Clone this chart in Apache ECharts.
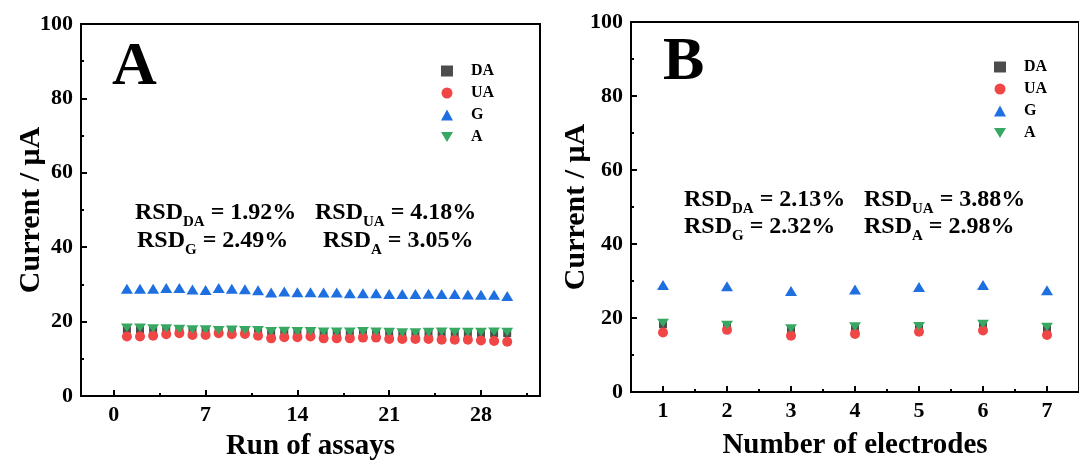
<!DOCTYPE html>
<html>
<head>
<meta charset="utf-8">
<script src="https://cdn.jsdelivr.net/npm/echarts@6.0.0/dist/echarts.min.js"></script>
<style>
  html, body { margin: 0; padding: 0; background: #fff; }
  #main { width: 1079px; height: 467px; }
</style>
</head>
<body>
<div id="main"></div>
<script>
// ---- data, panel A (run of assays) ----
var runs = [];
for (var i = 1; i <= 30; i++) runs.push(i);
var daA = [18.0, 17.9, 17.9, 17.8, 17.7, 17.6, 17.6, 17.5, 17.5, 17.4, 17.3, 17.1, 17.2, 17.1, 17.1,
           17.0, 17.0, 17.0, 17.0, 16.9, 16.9, 16.8, 16.8, 16.8, 17.0, 16.9, 16.8, 16.9, 16.9, 16.9];
var uaA = [16.0, 16.0, 16.2, 16.6, 16.9, 16.4, 16.4, 16.9, 16.6, 16.7, 16.2, 15.5, 15.8, 15.8, 16.0,
           15.5, 15.5, 15.5, 15.7, 15.7, 15.3, 15.3, 15.3, 15.3, 15.1, 15.1, 15.1, 14.9, 14.8, 14.6];
var gA  = [28.8, 28.8, 28.8, 29.0, 29.0, 28.6, 28.5, 29.0, 28.8, 28.7, 28.4, 27.8, 28.1, 27.9, 27.9,
           27.8, 27.8, 27.6, 27.6, 27.6, 27.4, 27.4, 27.4, 27.5, 27.4, 27.4, 27.3, 27.2, 27.2, 26.9];
var aA  = [18.4, 18.4, 18.2, 18.2, 18.0, 17.9, 17.9, 17.7, 17.8, 17.7, 17.7, 17.4, 17.5, 17.4, 17.4,
           17.3, 17.3, 17.3, 17.4, 17.3, 17.2, 17.1, 17.1, 17.2, 17.3, 17.2, 17.2, 17.2, 17.3, 17.2];

// ---- data, panel B (number of electrodes) ----
var electrodes = [1, 2, 3, 4, 5, 6, 7];
var daB = [18.3, 17.9, 16.9, 17.3, 17.6, 18.1, 17.2];
var uaB = [16.1, 16.8, 15.2, 15.7, 16.3, 16.6, 15.4];
var gB  = [28.9, 28.6, 27.3, 27.7, 28.4, 28.9, 27.5];
var aB  = [18.7, 18.1, 17.2, 17.7, 17.8, 18.4, 17.6];

// tick labels
var xTicksA = [0, 7, 14, 21, 28];
var xMinorA = [3.5, 10.5, 17.5, 24.5, 31.5];
var xTicksB = [1, 2, 3, 4, 5, 6, 7];
var xMinorB = [1.5, 2.5, 3.5, 4.5, 5.5, 6.5];

var names = ['DA', 'UA', 'G', 'A'];
var colors = ['#4d4d4d', '#f04646', '#1e6fe0', '#37a862'];
var rsdA = [['DA', '1.92%'], ['UA', '4.18%'], ['G', '2.49%'], ['A', '3.05%']];
var rsdB = [['DA', '2.13%'], ['UA', '3.88%'], ['G', '2.32%'], ['A', '2.98%']];

var FONT = 'Liberation Serif';

function zip(xs, ys) {
    return xs.map(function (x, i) { return [x, ys[i]]; });
}

function mkSeries(xi, yi, xs, sets) {
    var shapes = [
        { symbol: 'rect', symbolSize: 8 },
        { symbol: 'circle', symbolSize: 10 },
        { symbol: 'triangle', symbolSize: [12, 10] },
        { symbol: 'path://M0,0L12,0L6,10Z', symbolSize: [12, 10] }   // down triangle
    ];
    return sets.map(function (ys, k) {
        return {
            name: names[k],
            type: 'scatter',
            xAxisIndex: xi,
            yAxisIndex: yi,
            symbol: shapes[k].symbol,
            symbolSize: shapes[k].symbolSize,
            symbolKeepAspect: true,
            itemStyle: { color: colors[k], opacity: 1 },
            data: zip(xs, ys)
        };
    });
}

function xAxisMain(gi, min, max, ticks, name, gap) {
    return {
        gridIndex: gi, type: 'value', min: min, max: max,
        name: name, nameLocation: 'middle', nameGap: gap, nameMoveOverlap: false,
        nameTextStyle: { fontFamily: FONT, fontWeight: 'bold', fontSize: 29, color: '#000' },
        axisLine: { show: true, onZero: false, lineStyle: { color: '#000', width: 2 } },
        axisTick: { show: true, inside: true, length: 6, customValues: ticks, lineStyle: { color: '#000', width: 2 } },
        axisLabel: { show: true, customValues: ticks, margin: 8, fontFamily: FONT, fontWeight: 'bold', fontSize: 22, color: '#000' },
        splitLine: { show: false }
    };
}
function xAxisMinor(gi, min, max, ticks) {
    return {
        gridIndex: gi, type: 'value', min: min, max: max, position: 'bottom',
        axisLine: { show: false, onZero: false },
        axisTick: { show: true, inside: true, length: 3, customValues: ticks, lineStyle: { color: '#000', width: 2 } },
        axisLabel: { show: false },
        splitLine: { show: false }
    };
}
function yAxisMain(gi, gap) {
    return {
        gridIndex: gi, type: 'value', min: 0, max: 100, interval: 20,
        name: 'Current / μA', nameLocation: 'middle', nameGap: gap, nameMoveOverlap: false,
        nameTextStyle: { fontFamily: FONT, fontWeight: 'bold', fontSize: 30, color: '#000' },
        axisLine: { show: true, onZero: false, lineStyle: { color: '#000', width: 2 } },
        axisTick: { show: true, inside: true, length: 6, lineStyle: { color: '#000', width: 2 } },
        minorTick: { show: true, splitNumber: 2, length: 3, lineStyle: { color: '#000', width: 2 } },
        axisLabel: { margin: 8, fontFamily: FONT, fontWeight: 'bold', fontSize: 22, color: '#000' },
        splitLine: { show: false },
        minorSplitLine: { show: false }
    };
}

function rsdTitle(item, left, top) {
    return {
        text: '{m|RSD}{s|' + item[0] + '}{m| = ' + item[1] + '}',
        left: left, top: top, padding: 0,
        textStyle: {
            rich: {
                m: { fontFamily: FONT, fontWeight: 'bold', fontSize: 24, color: '#000', verticalAlign: 'bottom', padding: [0, 0, 5, 0] },
                s: { fontFamily: FONT, fontWeight: 'bold', fontSize: 15, color: '#000', verticalAlign: 'bottom' }
            }
        }
    };
}
function letter(t, left, top) {
    return {
        text: t, left: left, top: top, padding: 0,
        textStyle: { fontFamily: FONT, fontWeight: 'bold', fontSize: 62, color: '#000' }
    };
}
function legendAt(left, top) {
    return {
        orient: 'vertical', left: left, top: top, padding: 0,
        itemWidth: 12, itemHeight: 11, itemGap: 6,
        data: names,
        textStyle: { fontFamily: FONT, fontWeight: 'bold', fontSize: 16, color: '#000', padding: [0, 0, 0, 13] }
    };
}

var myChart = echarts.init(document.getElementById('main'));
var option = {
    animation: false,
    backgroundColor: '#fff',
    title: [
        letter('A', 112, 37),
        letter('B', 663, 32),
        rsdTitle(rsdA[0], 135, 201),
        rsdTitle(rsdA[1], 315, 201),
        rsdTitle(rsdA[2], 137, 229),
        rsdTitle(rsdA[3], 323, 229),
        rsdTitle(rsdB[0], 684, 188),
        rsdTitle(rsdB[1], 864, 188),
        rsdTitle(rsdB[2], 684, 215),
        rsdTitle(rsdB[3], 864, 215)
    ],
    legend: [legendAt(441, 63), legendAt(994, 59)],
    grid: [
        { left: 81, right: 539, top: 24, bottom: 71, show: true, borderColor: '#000', borderWidth: 2, containLabel: false },
        { left: 631, right: -6, top: 22, bottom: 75, show: true, borderColor: '#000', borderWidth: 2, containLabel: false }
    ],
    xAxis: [
        xAxisMain(0, -2.5, 32.5, xTicksA, 'Run of assays', 36),
        xAxisMinor(0, -2.5, 32.5, xMinorA),
        xAxisMain(1, 0.5, 7.5, xTicksB, 'Number of electrodes', 39),
        xAxisMinor(1, 0.5, 7.5, xMinorB)
    ],
    yAxis: [yAxisMain(0, 35), yAxisMain(1, 40)],
    series: mkSeries(0, 0, runs, [daA, uaA, gA, aA])
        .concat(mkSeries(2, 1, electrodes, [daB, uaB, gB, aB]))
};
myChart.setOption(option);
</script>
</body>
</html>
